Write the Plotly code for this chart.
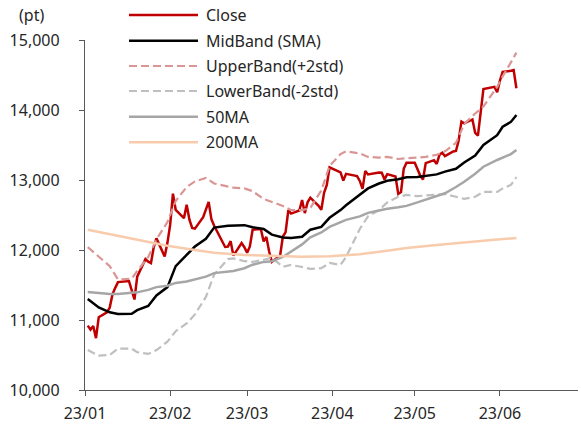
import plotly.graph_objects as go

# ---------------- data ----------------
close_dates = [
    "2023-01-02", "2023-01-03", "2023-01-04", "2023-01-05", "2023-01-06", "2023-01-09", "2023-01-10",
    "2023-01-11", "2023-01-12", "2023-01-13", "2023-01-17", "2023-01-18", "2023-01-19", "2023-01-20",
    "2023-01-23", "2023-01-24", "2023-01-25", "2023-01-26", "2023-01-27", "2023-01-30", "2023-01-31",
    "2023-02-01", "2023-02-02", "2023-02-03", "2023-02-06", "2023-02-07", "2023-02-08", "2023-02-09",
    "2023-02-10", "2023-02-13", "2023-02-14", "2023-02-15", "2023-02-16", "2023-02-17", "2023-02-21",
    "2023-02-22", "2023-02-23", "2023-02-24", "2023-02-27", "2023-02-28",
    "2023-03-01", "2023-03-02", "2023-03-03", "2023-03-06", "2023-03-07", "2023-03-08", "2023-03-09",
    "2023-03-10", "2023-03-13", "2023-03-14", "2023-03-15", "2023-03-16", "2023-03-17", "2023-03-20",
    "2023-03-21", "2023-03-22", "2023-03-23", "2023-03-24", "2023-03-27", "2023-03-28", "2023-03-29",
    "2023-03-30", "2023-03-31",
    "2023-04-03", "2023-04-04", "2023-04-05", "2023-04-06", "2023-04-10", "2023-04-11", "2023-04-12",
    "2023-04-13", "2023-04-14", "2023-04-17", "2023-04-18", "2023-04-19", "2023-04-20", "2023-04-21",
    "2023-04-24", "2023-04-25", "2023-04-26", "2023-04-27", "2023-04-28",
    "2023-05-01", "2023-05-02", "2023-05-03", "2023-05-04", "2023-05-05", "2023-05-08", "2023-05-09",
    "2023-05-10", "2023-05-11", "2023-05-12", "2023-05-15", "2023-05-16", "2023-05-17", "2023-05-18",
    "2023-05-19", "2023-05-22", "2023-05-23", "2023-05-24", "2023-05-25", "2023-05-26", "2023-05-30",
    "2023-05-31",
    "2023-06-01", "2023-06-02", "2023-06-05", "2023-06-06", "2023-06-07",
]
close_values = [
    10920, 10862, 10914, 10741, 11040, 11108, 11178,
    11366, 11459, 11541, 11556, 11406, 11293, 11619,
    11869, 11834, 11814, 12036, 12166, 11906, 12102,
    12361, 12804, 12574, 12455, 12647, 12434, 12315,
    12305, 12469, 12581, 12688, 12439, 12346, 12043,
    12048, 12126, 11920, 12100, 12040,
    11960, 12050, 12290, 12300, 12123, 12186, 11982,
    11830, 11920, 12189, 12255, 12568, 12520, 12565,
    12714, 12527, 12681, 12747, 12630, 12573, 12817,
    12928, 13181,
    13124, 13109, 12991, 13088, 13055, 12987, 12873,
    13130, 13080, 13106, 13107, 13104, 13008, 13084,
    13049, 12801, 12829, 13160, 13245,
    13246, 13160, 13064, 13008, 13241, 13283, 13230,
    13360, 13389, 13340, 13407, 13414, 13568, 13835,
    13810, 13865, 13672, 13633, 13986, 14298, 14331,
    14254,
    14419, 14546, 14560, 14571, 14311,
]

band_dates = [
    "2023-01-02", "2023-01-06", "2023-01-10", "2023-01-13", "2023-01-18", "2023-01-20", "2023-01-24",
    "2023-01-27", "2023-01-31", "2023-02-03", "2023-02-07", "2023-02-10", "2023-02-14", "2023-02-17",
    "2023-02-22", "2023-02-24", "2023-02-28", "2023-03-03", "2023-03-07", "2023-03-10", "2023-03-14",
    "2023-03-17", "2023-03-21", "2023-03-24", "2023-03-28", "2023-03-31", "2023-04-04", "2023-04-06",
    "2023-04-11", "2023-04-14", "2023-04-18", "2023-04-21", "2023-04-25", "2023-04-28", "2023-05-02",
    "2023-05-05", "2023-05-09", "2023-05-12", "2023-05-16", "2023-05-19", "2023-05-23", "2023-05-26",
    "2023-05-31", "2023-06-02", "2023-06-05", "2023-06-07",
]
mid_band = [
    11300, 11180, 11110, 11085, 11090, 11140, 11200,
    11350, 11470, 11770, 11930, 12050, 12160, 12320,
    12345, 12350, 12355, 12325, 12300, 12220, 12180,
    12170, 12190, 12290, 12330, 12460, 12570, 12640,
    12786, 12880, 12950, 12990, 13010, 13040, 13043,
    13060, 13080, 13120, 13160, 13250, 13350, 13500,
    13640, 13760, 13830, 13930,
]
upper_band = [
    12040, 11900, 11770, 11580, 11590, 11700, 11900,
    12150, 12400, 12700, 12900, 12980, 13030, 12950,
    12900, 12890, 12880, 12840, 12730, 12690, 12630,
    12570, 12570, 12600, 12850, 13200, 13370, 13410,
    13380, 13330, 13320, 13330, 13300, 13310, 13320,
    13330, 13360, 13410, 13530, 13800, 13950, 14050,
    14330, 14480, 14680, 14820,
]
lower_band = [
    10570, 10490, 10500, 10590, 10590, 10540, 10515,
    10570, 10690, 10840, 10950, 11080, 11330, 11650,
    11870, 11880, 11840, 11830, 11860, 11890, 11760,
    11786, 11757, 11730, 11740, 11814, 11786, 11900,
    12300, 12480, 12570, 12680, 12760, 12786, 12770,
    12780, 12790, 12800, 12760, 12730, 12760, 12830,
    12830, 12880, 12930, 13040,
]
ma50 = [
    11400, 11385, 11372, 11370, 11385, 11395, 11430,
    11470, 11490, 11530, 11550, 11580, 11620, 11670,
    11690, 11700, 11740, 11790, 11830, 11840, 11900,
    11980, 12080, 12180, 12250, 12330, 12400, 12430,
    12480, 12530, 12565, 12590, 12610, 12630, 12680,
    12720, 12780, 12810, 12900, 12975, 13090, 13190,
    13286, 13320, 13370, 13430,
]

ma200_dates = [
    "2023-01-02", "2023-01-13", "2023-01-24", "2023-01-31", "2023-02-10", "2023-02-17", "2023-02-28",
    "2023-03-10", "2023-03-21", "2023-03-31", "2023-04-11", "2023-04-21", "2023-04-28", "2023-05-09",
    "2023-05-19", "2023-05-31", "2023-06-07",
]
ma200 = [
    12290, 12200, 12120, 12060, 12000, 11960, 11930,
    11915, 11905, 11910, 11940, 11990, 12030, 12070,
    12110, 12150, 12170,
]

y_ticks = [10000, 11000, 12000, 13000, 14000, 15000]
x_tick_dates = ["2023-01-01", "2023-02-01", "2023-03-01", "2023-04-01", "2023-05-01", "2023-06-01"]
x_tick_labels = ["23/01", "23/02", "23/03", "23/04", "23/05", "23/06"]

# ---------------- styles ----------------
FONT = "Noto Sans"
TXT = "#262626"
AX = "#595959"
W, H = 581, 428
L, R, T, B = 85, 3, 40, 38

series = [
    ("Close", close_dates, close_values, "#C00000", 2.5, "solid"),
    ("MidBand (SMA)", band_dates, mid_band, "#000000", 2.5, "solid"),
    ("UpperBand(+2std)", band_dates, upper_band, "#D99694", 2.2, "8px,4px"),
    ("LowerBand(-2std)", band_dates, lower_band, "#BFBFBF", 2.2, "8px,4px"),
    ("50MA", band_dates, ma50, "#A6A6A6", 2.5, "solid"),
    ("200MA", ma200_dates, ma200, "#F8CBAD", 2.5, "solid"),
]

fig = go.Figure()
for name, xs, ys, col, lw, dash in series:
    fig.add_trace(go.Scatter(x=xs, y=ys, mode="lines", name=name,
                             line=dict(color=col, width=lw, dash=dash),
                             showlegend=False))

# manual legend (long line samples like the original)
pw, ph = W - L - R, H - T - B
def px_x(p):
    return (p - L) / pw
def px_y(p):
    return (H - B - p) / ph

shapes, annotations = [], []
row_y = [15, 40.7, 66, 91, 116.7, 142.3]
for (name, xs, ys, col, lw, dash), yy in zip(series, row_y):
    shapes.append(dict(type="line", xref="paper", yref="paper",
                       x0=px_x(129), x1=px_x(198), y0=px_y(yy), y1=px_y(yy),
                       line=dict(color=col, width=lw, dash=dash)))
    annotations.append(dict(text=name, xref="paper", yref="paper",
                            x=px_x(204), y=px_y(yy), xanchor="left", yanchor="middle",
                            showarrow=False, font=dict(family=FONT, size=16, color=TXT)))

annotations.append(dict(text="(pt)", xref="paper", yref="paper",
                        x=px_x(31), y=px_y(15), xanchor="center", yanchor="middle",
                        showarrow=False, font=dict(family=FONT, size=16, color=TXT)))

fig.update_layout(
    width=W, height=H, autosize=False,
    margin=dict(l=L, r=R, t=T, b=B),
    paper_bgcolor="white", plot_bgcolor="white",
    font=dict(family=FONT, size=16, color=TXT),
    shapes=shapes, annotations=annotations,
    showlegend=False,
)
fig.update_xaxes(
    type="date", range=["2023-01-01", "2023-06-29 10:00"],
    tickvals=x_tick_dates, ticktext=x_tick_labels,
    ticks="outside", ticklen=5, tickcolor=AX, tickwidth=1.3,
    showline=True, linecolor=AX, linewidth=1.3,
    showgrid=False, zeroline=False,
    tickfont=dict(family=FONT, size=16, color=TXT),
    ticklabelstandoff=4,
)
fig.update_yaxes(
    range=[10000, 15000], tickvals=y_ticks, tickformat=",",
    ticks="outside", ticklen=5, tickcolor=AX, tickwidth=1.3,
    showline=True, linecolor=AX, linewidth=1.3,
    showgrid=False, zeroline=False,
    tickfont=dict(family=FONT, size=16, color=TXT),
    ticklabelstandoff=16,
)

fig.write_html("out.html",
               config={"displayModeBar": False},
               post_script="document.body.style.margin='0';document.body.style.overflow='hidden';")
